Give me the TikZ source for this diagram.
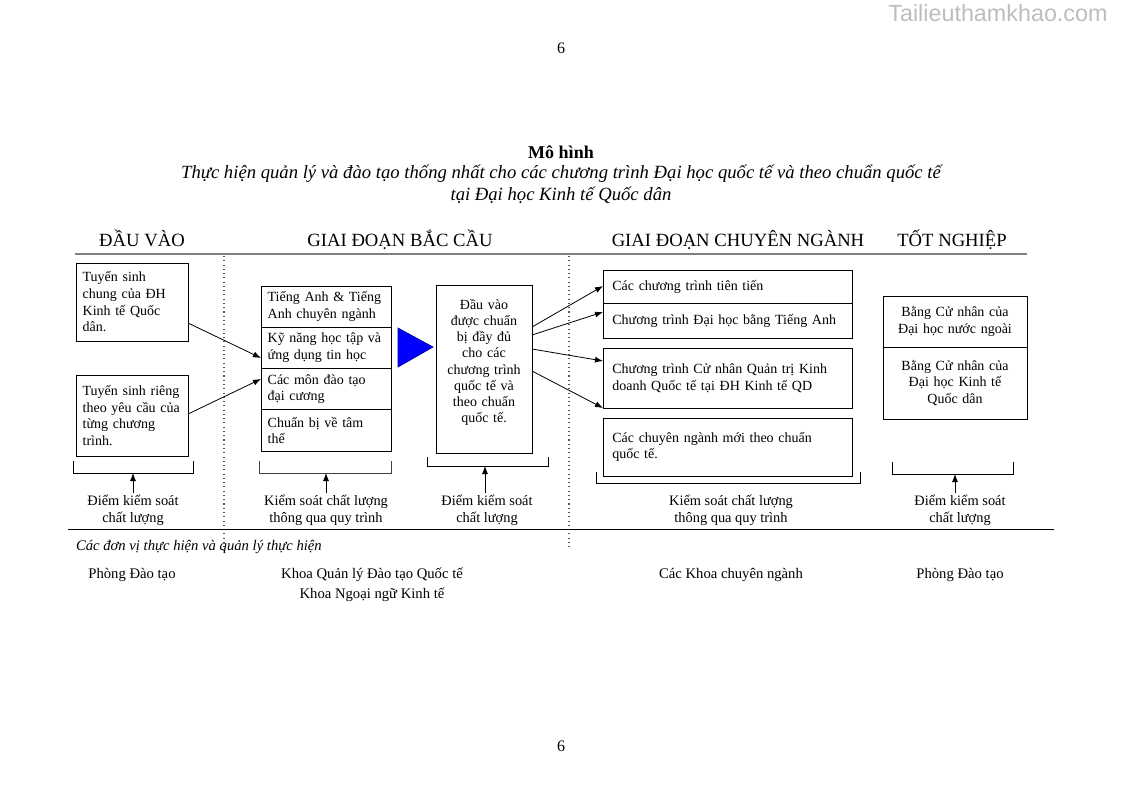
\documentclass[tikz,border=0pt]{standalone}
\usepackage{fontspec}
\setmainfont{Liberation Serif}
\newfontfamily\markfont{Liberation Sans}
\usepackage{tikz}
\usetikzlibrary{arrows.meta,positioning}
\definecolor{rulegray}{HTML}{808080}
\definecolor{triblue}{HTML}{0000FF}
\definecolor{markgray}{HTML}{BDBDBD}
\definecolor{dotgray}{HTML}{555555}

\begin{document}
\begin{tikzpicture}[x=0.75pt,y=-0.75pt,
  every node/.style={font=\fontsize{10.5}{12.5}\selectfont,outer sep=0pt},
  lbox/.style={rectangle,draw,line width=0.6pt,align=left,anchor=north west,inner ysep=2pt},
  cbox/.style={rectangle,draw,line width=0.6pt,align=center,anchor=north west,inner ysep=2pt},
  abox/.style={lbox,text width=74pt,inner xsep=5pt},
  bcell/.style={lbox,text width=87.5pt,inner xsep=5pt,minimum height=30.94pt},
  dcell/.style={lbox,text width=172.75pt,inner xsep=7pt},
  gcell/.style={cbox,text width=100pt,inner xsep=4pt},
  hdr/.style={font=\fontsize{14}{16}\selectfont,anchor=base},
  ctl/.style={align=center,inner sep=1pt,font=\fontsize{10.8}{12.75}\selectfont},
  unit/.style={align=center,inner sep=1pt,font=\fontsize{11}{15}\selectfont},
  brk/.style={line width=0.6pt},
  arrow/.style={-{Latex[length=6pt,width=4.5pt]},line width=0.6pt},
  sep/.style={dotgray,line width=0.8pt,dash pattern=on 0.8pt off 2.4pt}
]
\useasboundingbox (0,0) rectangle (1123,794);

% page and title
\node[font=\markfont\fontsize{17.5}{20}\selectfont,text=markgray,anchor=east] (mark) at (1112,13) {Tailieuthamkhao.com};
\node[font=\fontsize{12}{14}\selectfont] (pgtop) at (561,48) {6};
\node[font=\fontsize{12}{14}\selectfont] (pgbot) at (561,746) {6};
\node[font=\bfseries\fontsize{13.5}{16.5}\selectfont] (title) at (561,152) {Mô hình};
\node[font=\itshape\fontsize{14}{16.5}\selectfont,align=center] (subtitle) at (561,184)
  {Thực hiện quản lý và đào tạo thống nhất cho các chương trình Đại học quốc tế và theo chuẩn quốc tế\\tại Đại học Kinh tế Quốc dân};

% stage headers
\node[hdr] (h1) at (142,246) {ĐẦU VÀO};
\node[hdr] (h2) at (400,246) {GIAI ĐOẠN BẮC CẦU};
\node[hdr] (h3) at (738,246) {GIAI ĐOẠN CHUYÊN NGÀNH};
\node[hdr] (h4) at (952,246) {TỐT NGHIỆP};
\draw[rulegray,line width=1.5pt] (75,254) -- (1027,254);
\draw[sep] (224,256) -- (224,552);
\draw[sep] (569,256) -- (569,550);

% input
\node[abox,minimum height=58.5pt] (a1) at (76,263) {Tuyển sinh\\chung của ĐH\\Kinh tế Quốc\\dân.};
\node[abox,minimum height=60.75pt] (a2) at (76,375) {Tuyển~sinh~riêng\\theo~yêu~cầu~của\\từng chương\\trình.};

% bridging stage
\node[bcell] (b1) at (261,286) {Tiếng~Anh~\&~Tiếng\\Anh chuyên ngành};
\node[bcell,below=0pt of b1] (b2) {Kỹ~năng~học~tập~và\\ứng dụng tin học};
\node[bcell,below=0pt of b2] (b3) {Các môn đào tạo\\đại cương};
\node[bcell,below=0pt of b3] (b4) {Chuẩn bị về tâm\\thế};
\draw[fill=triblue,draw=triblue!60!black,line width=0.5pt] (398,328) -- (433,347) -- (398,367) -- cycle;
\node[cbox,text width=66pt,inner xsep=3pt,minimum height=126pt,font=\fontsize{10.5}{12.2}\selectfont] (c) at (436,285)
  {Đầu vào\\được chuẩn\\bị đầy đủ\\cho các\\chương trình\\quốc tế và\\theo chuẩn\\quốc tế.\\\mbox{}};

% specialisation stage
\node[dcell,minimum height=24.75pt] (d1) at (603,270) {Các chương trình tiên tiến};
\node[dcell,minimum height=26.25pt,below=0pt of d1] (d2) {Chương trình Đại học bằng Tiếng Anh};
\node[dcell,minimum height=45pt] (e) at (603,348) {Chương trình Cử nhân Quản trị Kinh\\doanh Quốc tế tại ĐH Kinh tế QD};
\node[dcell,minimum height=43.5pt] (f) at (603,418) {Các chuyên ngành mới theo chuẩn\\quốc tế.};

% graduation
\node[gcell,minimum height=38.25pt] (g1) at (883,296) {Bằng Cử nhân của\\Đại học nước ngoài};
\node[gcell,minimum height=54pt,below=0pt of g1] (g2) {Bằng Cử nhân của\\Đại học Kinh tế\\Quốc dân};

\draw[arrow] (a1.east |- 0,323) -- (b2.west |- 0,358);
\draw[arrow] (a2.east |- 0,414) -- (b3.west |- 0,379);
\draw[arrow] (c.east |- 0,327) -- (d1.west |- 0,286);
\draw[arrow] (c.east |- 0,335) -- (d2.west |- 0,312);
\draw[arrow] (c.east |- 0,349) -- (e.west |- 0,361);
\draw[arrow] (c.east |- 0,371) -- (e.south west);

% quality control brackets
\draw[brk] (73,461) |- (193,473) -- (193,461);
\draw[brk,black!75] (259,461) |- (391,473) -- (391,461);
\draw[brk] (427,457) |- (548,466) -- (548,457);
\draw[brk] (596,472) |- (860,483) -- (860,472);
\draw[brk] (892,462) |- (1013,474) -- (1013,462);
\coordinate (k1) at (133,473);
\coordinate (k2) at (326,473);
\coordinate (k3) at (485,466);
\coordinate (k4) at (955,474);

\node[ctl] (q1) at (133,510) {Điểm kiểm soát\\chất lượng};
\node[ctl] (q2) at (326,510) {Kiểm soát chất lượng\\thông qua quy trình};
\node[ctl] (q3) at (487,510) {Điểm kiểm soát\\chất lượng};
\node[ctl] (q4) at (731,510) {Kiểm soát chất lượng\\thông qua quy trình};
\node[ctl] (q5) at (960,510) {Điểm kiểm soát\\chất lượng};
\draw[arrow] (q1.north -| k1) -- (k1);
\draw[arrow] (q2.north -| k2) -- (k2);
\draw[arrow] (q3.north -| k3) -- (k3);
\draw[arrow] (q5.north -| k4) -- (k4);

% units in charge
\draw[line width=0.6pt] (68,529) -- (1054,529);
\node[font=\itshape\fontsize{11}{12}\selectfont,anchor=west,inner sep=0pt] (note) at (76,547) {Các đơn vị thực hiện và quản lý thực hiện};
\node[unit] (u1) at (132,575) {Phòng Đào tạo};
\node[unit] (u2) at (372,585) {Khoa Quản lý Đào tạo Quốc tế\\Khoa Ngoại ngữ Kinh tế};
\node[unit] (u3) at (731,575) {Các Khoa chuyên ngành};
\node[unit] (u4) at (960,575) {Phòng Đào tạo};
\end{tikzpicture}
\end{document}
